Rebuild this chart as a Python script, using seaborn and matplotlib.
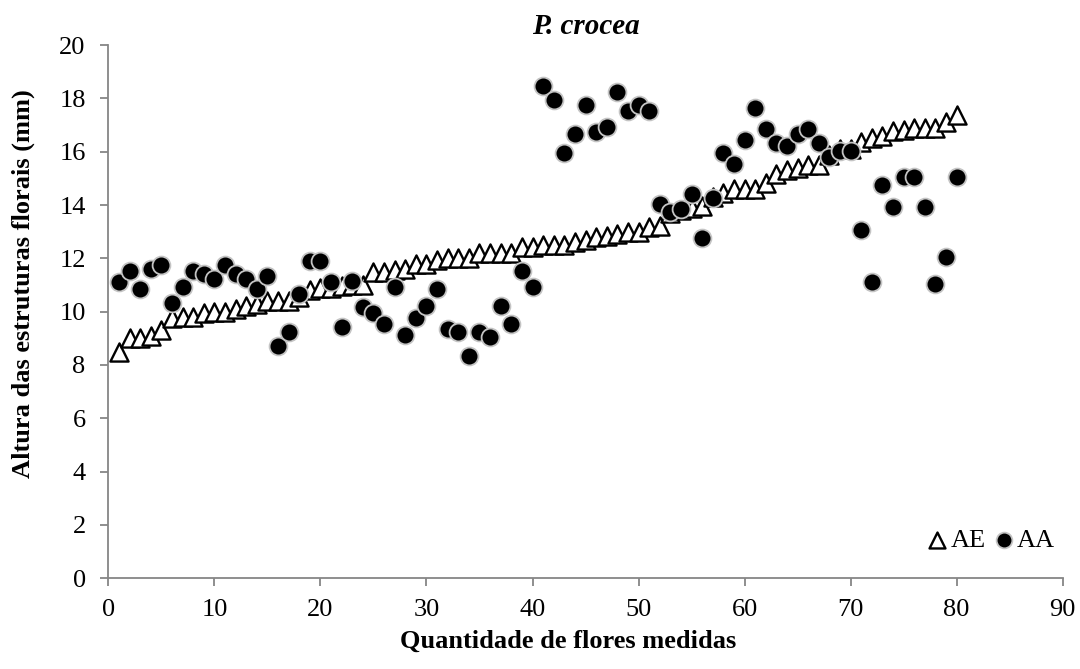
import pandas as pd
import matplotlib
matplotlib.use("Agg")
import matplotlib.pyplot as plt
import seaborn as sns

# Dados: número da flor e alturas (mm)
flores = list(range(1, 81))

ae = [8.5, 9.0, 9.0, 9.1, 9.3, 9.75, 9.8, 9.8, 9.94, 10.0,
      10.0, 10.1, 10.2, 10.3, 10.4, 10.4, 10.4, 10.55, 10.8, 10.87,
      10.9, 10.97, 11.0, 11.0, 11.5, 11.5, 11.58, 11.6, 11.8, 11.8,
      11.92, 12.0, 12.0, 12.0, 12.2, 12.2, 12.2, 12.2, 12.42, 12.42,
      12.5, 12.5, 12.5, 12.6, 12.7, 12.79, 12.83, 12.92, 13.0, 13.0,
      13.17, 13.2, 13.7, 13.8, 13.9, 13.95, 14.3, 14.45, 14.6, 14.6,
      14.6, 14.81, 15.18, 15.31, 15.38, 15.51, 15.5, 15.87, 16.09, 16.1,
      16.38, 16.5, 16.59, 16.79, 16.8, 16.88, 16.9, 16.9, 17.1, 17.38]

aa = [11.12, 11.53, 10.84, 11.6, 11.75, 10.33, 10.93, 11.53, 11.43, 11.22,
      11.75, 11.43, 11.22, 10.84, 11.33, 8.72, 9.25, 10.65, 11.91, 11.91,
      11.12, 9.43, 11.16, 10.16, 9.96, 9.52, 10.93, 9.12, 9.75, 10.22,
      10.84, 9.34, 9.22, 8.34, 9.22, 9.04, 10.22, 9.54, 11.52, 10.93,
      18.46, 17.93, 15.94, 16.65, 17.75, 16.72, 16.93, 18.22, 17.52, 17.75,
      17.52, 14.05, 13.75, 13.85, 14.43, 12.75, 14.25, 15.96, 15.53, 16.43,
      17.62, 16.85, 16.33, 16.21, 16.65, 16.85, 16.33, 15.81, 16.02, 16.02,
      13.05, 11.13, 14.75, 13.93, 15.04, 15.04, 13.93, 11.02, 12.04, 15.04]

df = pd.DataFrame({"flor": flores, "AE": ae, "AA": aa})

sns.set_style("white")
plt.rcParams["font.family"] = ["Liberation Serif", "DejaVu Serif"]
plt.rcParams["text.color"] = "black"
plt.rcParams["axes.labelcolor"] = "black"
plt.rcParams["xtick.color"] = "black"
plt.rcParams["ytick.color"] = "black"

fig = plt.figure(figsize=(10.8, 6.69), dpi=100)
ax = fig.add_axes([0.1003, 0.1356, 0.8837, 0.7971])

# AE: triângulos brancos, AA: círculos pretos por cima
sns.scatterplot(data=df, x="flor", y="AE", marker="^", s=170,
                color="white", edgecolor="black", linewidth=1.7,
                label="AE", ax=ax, zorder=3)
sns.scatterplot(data=df, x="flor", y="AA", marker="o", s=165,
                color="black", edgecolor="#c4c4c4", linewidth=1.3,
                label="AA", ax=ax, zorder=4)

ax.set_xlim(0, 90)
ax.set_ylim(0, 20)
ax.set_xticks(range(0, 91, 10))
ax.set_yticks(range(0, 21, 2))

for side in ["top", "right"]:
    ax.spines[side].set_visible(False)
for side in ["left", "bottom"]:
    ax.spines[side].set_color("#868686")
    ax.spines[side].set_linewidth(1.3)

ax.tick_params(axis="both", which="major", length=5.8, width=1.3,
               color="#868686", labelcolor="black", labelsize=19,
               direction="out", left=True, bottom=True)
ax.tick_params(axis="x", pad=9)
ax.tick_params(axis="y", pad=10.5)

ax.set_xlabel("Quantidade de flores medidas", fontsize=19,
              fontweight="bold", va="top")
ax.xaxis.set_label_coords(0.4817, -0.097)
ax.set_ylabel("Altura das estruturas florais (mm)", fontsize=19,
              fontweight="bold")
ax.yaxis.set_label_coords(-0.077, 0.552)
ax.set_title("P. crocea", fontsize=21, fontweight="bold",
             fontstyle="italic", pad=8)

leg = ax.legend(loc="center right", bbox_to_anchor=(0.992, 0.072), ncol=2,
                frameon=False, fontsize=19, handlelength=0.9,
                handletextpad=0.05, columnspacing=0.25, markerscale=0.88,
                borderaxespad=0, borderpad=0)

fig.savefig("out.png", dpi=100)
